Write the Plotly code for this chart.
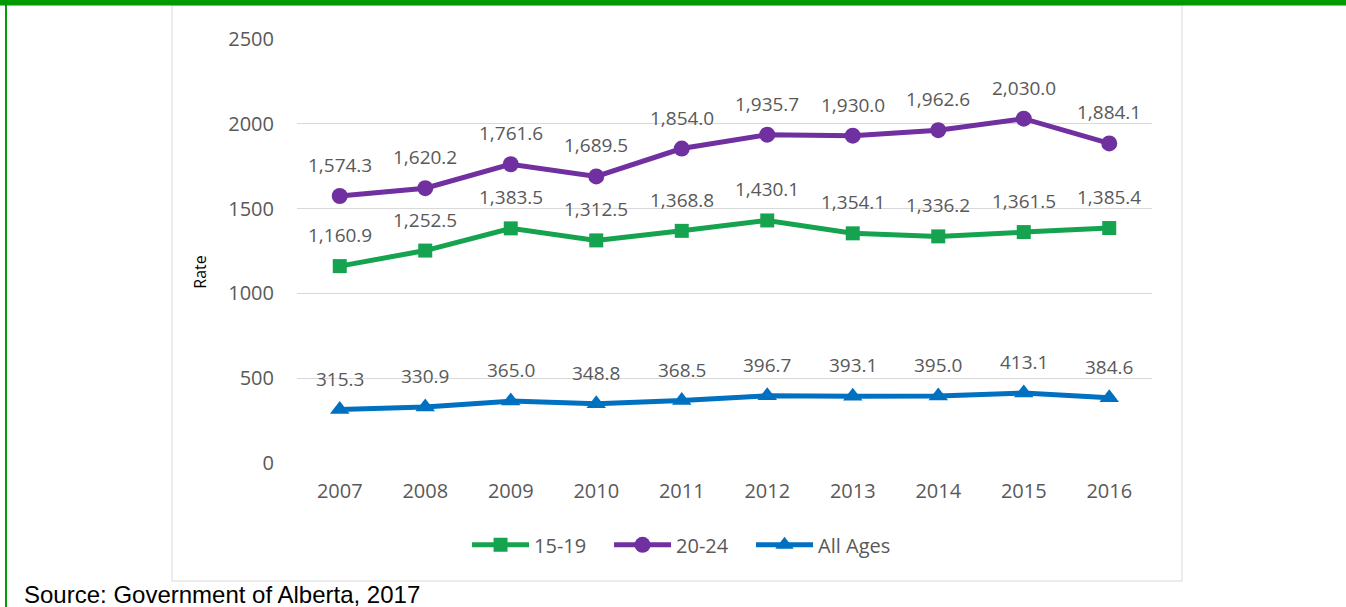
import plotly.graph_objects as go

years = ['2007', '2008', '2009', '2010', '2011', '2012', '2013', '2014', '2015', '2016']
teen = [1160.9, 1252.5, 1383.5, 1312.5, 1368.8, 1430.1, 1354.1, 1336.2, 1361.5, 1385.4]
young = [1574.3, 1620.2, 1761.6, 1689.5, 1854.0, 1935.7, 1930.0, 1962.6, 2030.0, 1884.1]
all_ages = [315.3, 330.9, 365.0, 348.8, 368.5, 396.7, 393.1, 395.0, 413.1, 384.6]
y_ticks = [0, 500, 1000, 1500, 2000, 2500]

GRAY = '#595959'
FONT = 'Open Sans'

series = [
    ('15-19', teen, '#16A34F', 'square', 14),
    ('20-24', young, '#7030A0', 'circle', 16),
    ('All Ages', all_ages, '#0070C0', 'triangle-up', 17),
]

fig = go.Figure()
for name, vals, color, sym, size in series:
    fig.add_trace(go.Scatter(
        x=years, y=vals, name=name, mode='lines+markers',
        line=dict(color=color, width=5),
        marker=dict(color=color, symbol=sym, size=size),
    ))
    # data labels sit about 31px above each point (x given as category index)
    for i, v in enumerate(vals):
        fig.add_annotation(x=i, y=v, text=f'{v:,.1f}', showarrow=False,
                           yshift=31, font=dict(family=FONT, size=19, color=GRAY))

# frame, green page border, source note
fig.add_shape(type='rect', xref='paper', yref='paper',
              x0=-0.1462, x1=1.0351, y0=-0.2783, y1=1.0802,
              line=dict(color='#D9D9D9', width=1), layer='below')
fig.add_shape(type='rect', xref='paper', yref='paper',
              x0=-0.36, x1=1.24, y0=1.0790, y1=1.10,
              line=dict(width=0), fillcolor='#009A00')
fig.add_shape(type='rect', xref='paper', yref='paper',
              x0=-0.3415, x1=-0.3392, y0=-0.36, y1=1.10,
              line=dict(width=0), fillcolor='#009A00')
fig.add_annotation(xref='paper', yref='paper', x=-0.3216, y=-0.3113,
                   xanchor='left', yanchor='middle', showarrow=False,
                   text='Source: Government of Alberta, 2017',
                   font=dict(family='Liberation Sans, Arial', size=24, color='black'))
fig.add_annotation(xref='paper', yref='paper', x=-0.129, y=0.4505,
                   textangle=-90, showarrow=False, text='Rate',
                   font=dict(family=FONT, size=16, color='black'))

fig.update_layout(
    width=1346, height=607,
    margin=dict(l=297, r=194, t=39, b=144),
    paper_bgcolor='white', plot_bgcolor='white',
    font=dict(family=FONT, size=20, color=GRAY),
    showlegend=True,
    legend=dict(orientation='h', x=0.448, xanchor='center', y=-0.193, yanchor='middle',
                itemwidth=57, entrywidth=70,
                font=dict(family=FONT, size=20, color=GRAY),
                bgcolor='rgba(0,0,0,0)'),
    xaxis=dict(type='category', range=[-0.5, 9.5], showgrid=False, zeroline=False,
               showline=False, ticks='', ticklabelstandoff=14),
    yaxis=dict(range=[0, 2500], tickvals=y_ticks, showgrid=True, gridcolor='#D9D9D9',
               gridwidth=1, zeroline=False, showline=False, ticks='',
               ticklabelstandoff=22),
)

fig.write_html('out.html', config={'displayModeBar': False},
               post_script="document.body.style.margin='0';")
